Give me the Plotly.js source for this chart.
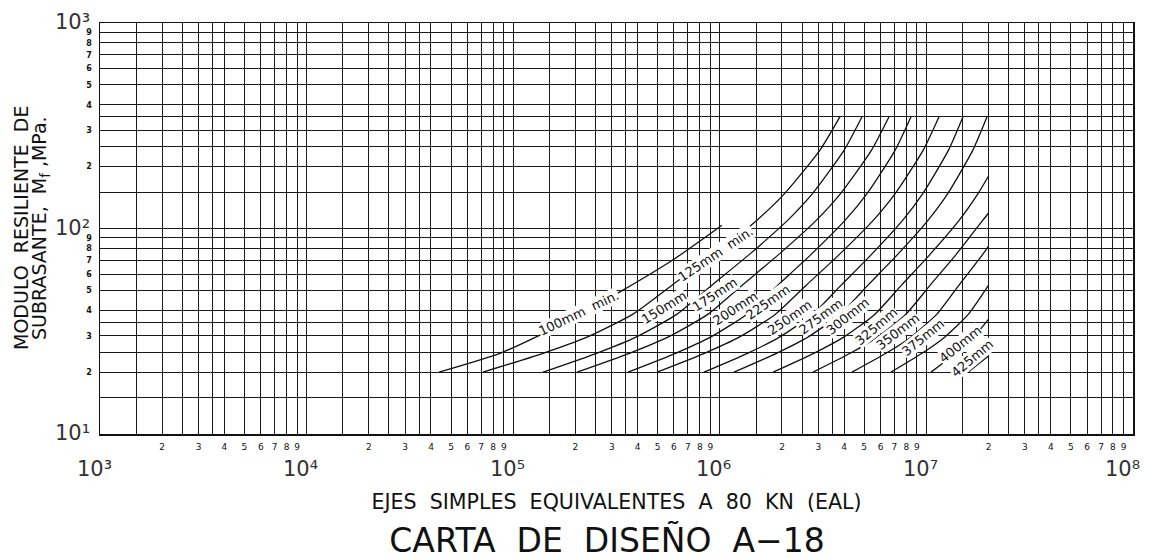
<!DOCTYPE html>
<html>
<head>
<meta charset="utf-8">
<script src="https://cdn.plot.ly/plotly-3.0.1.min.js"></script>
<style>html,body{margin:0;padding:0;background:#fff;}#chart{width:1149px;height:559px;}</style>
</head>
<body>
<div id="chart"></div>
<script>
// ---- Data (EAL = ejes simples equivalentes, MR = módulo resiliente MPa) ----
const thickness = ['100mm  min.', '125mm  min.', '150mm', '175mm', '200mm', '225mm', '250mm',
  '275mm', '300mm', '325mm', '350mm', '375mm', '400mm', '425mm'];

const eal100 = [43700, 86250, 134700, 208100, 339700, 599700, 1024000];
const mr100  = [20, 24.7, 30.3, 37.9, 50.1, 70.9, 103.8];
const eal125 = [71400, 139400, 227500, 379900, 586900, 926800, 1513000, 2068000, 3054000, 3818000];
const mr125  = [20, 24.7, 29.6, 38.3, 53.0, 74.2, 109.8, 148.6, 240.6, 350];
const eal150 = [139400, 253300, 392600, 620900, 915600, 1377000, 2135000, 2821000, 3997000, 4879000];
const mr150  = [20, 24.7, 29.6, 38.3, 53.0, 74.2, 109.8, 148.6, 240.6, 350];
const eal175 = [203600, 365100, 560700, 877600, 1283000, 1913000, 2937000, 3857000, 5425000, 6591000];
const mr175  = [20, 24.7, 29.6, 38.3, 53.0, 74.2, 109.8, 148.6, 240.6, 350];
const eal200 = [359400, 610800, 900900, 1353000, 1909000, 2744000, 4046000, 5181000, 7060000, 8424000];
const mr200  = [20, 24.7, 29.6, 38.3, 53.0, 74.2, 109.8, 148.6, 240.6, 350];
const eal225 = [496600, 842300, 1241000, 1860000, 2622000, 3762000, 5540000, 7088000, 9650000, 11510000];
const mr225  = [20, 24.7, 29.6, 38.3, 53.0, 74.2, 109.8, 148.6, 240.6, 350];
const eal250 = [838500, 1362000, 1944000, 2820000, 3866000, 5384000, 7687000, 9638000, 12790000, 15040000];
const mr250  = [20, 24.7, 29.6, 38.3, 53.0, 74.2, 109.8, 148.6, 240.6, 350];
const eal275 = [1171000, 1881000, 2665000, 3831000, 5212000, 7204000, 10200000, 12730000, 16780000, 19650000];
const mr275  = [20, 24.7, 29.6, 38.3, 53.0, 74.2, 109.8, 148.6, 240.6, 350];
const eal300 = [1809000, 2851000, 3979000, 5639000, 7578000, 10340000, 14430000, 17840000, 20000000];
const mr300  = [20, 24.7, 29.6, 38.3, 53.0, 74.2, 109.8, 148.6, 180];
const eal325 = [2825000, 4277000, 5797000, 7965000, 10430000, 13850000, 18760000, 20000000];
const mr325  = [20, 24.7, 29.6, 38.3, 53.0, 74.2, 109.8, 119];
const eal350 = [4364000, 6372000, 8411000, 11240000, 14380000, 18620000, 20000000];
const mr350  = [20, 24.7, 29.6, 38.3, 53.0, 74.2, 82.1];
const eal375 = [6739000, 9519000, 12260000, 15980000, 20000000];
const mr375  = [20, 24.7, 29.6, 38.3, 53.0];
const eal400 = [10530000, 13860000, 16950000, 20000000];
const mr400  = [20, 24.7, 29.6, 36.2];
const eal425 = [15900000, 17900000, 20000000];
const mr425  = [20, 22, 24];

// label anchor points (EAL, MPa) and angles for the curve labels
const labelEal   = [205900, 948000, 537000, 948000, 1185000, 1702000, 2187000, 3089000, 4151000, 5704000, 7288000, 9627000, 14540000, 16570000];
const labelMr    = [38.8, 75.1, 41.3, 47.5, 41.0, 43.6, 36.7, 37.1, 37.1, 33.5, 31.4, 29.5, 27.4, 23.4];
const labelAngle = [-25.6, -34, -32, -33, -33, -35, -35, -36.5, -38.7, -40, -37.6, -39, -39, -40];

// grid / tick tables
const decadesX = [1e3, 1e4, 1e5, 1e6, 1e7];
const decadesY = [10, 100];
const labelMult = [2, 3, 4, 5, 6, 7, 8, 9];
const extraGridMult = [1, 1.5, 2.5, 3.5];
const xDecadeLabels = [1e3, 1e4, 1e5, 1e6, 1e7, 1e8];
const yDecadeLabels = [10, 100, 1000];
const supDigits = ['\u2070', '\u00b9', '\u00b2', '\u00b3', '\u2074', '\u2075', '\u2076', '\u2077', '\u2078', '\u2079'];

// ---- Build ----
const curvesX = [eal100, eal125, eal150, eal175, eal200, eal225, eal250, eal275, eal300, eal325, eal350, eal375, eal400, eal425];
const curvesY = [mr100, mr125, mr150, mr175, mr200, mr225, mr250, mr275, mr300, mr325, mr350, mr375, mr400, mr425];

const traces = curvesX.map((xs, i) => ({
  type: 'scatter', mode: 'lines', x: xs, y: curvesY[i], name: thickness[i],
  line: {color: '#111', width: 1.3, shape: 'spline', smoothing: 0.6},
  hoverinfo: 'x+y+name', showlegend: false
}));

function majorTicks(decades) {
  const vals = [], text = [];
  decades.forEach(d => labelMult.forEach(m => { vals.push(d * m); text.push(String(m)); }));
  return {vals, text};
}
function minorTicks(decades, last) {
  const vals = [];
  decades.forEach(d => extraGridMult.forEach(m => vals.push(d * m)));
  vals.push(last);
  return vals;
}
const xt = majorTicks(decadesX);
const yt = majorTicks(decadesY);
const xm = minorTicks(decadesX, 1e8);
const ym = minorTicks(decadesY, 1000);
const powLabel = d => '10' + supDigits[Math.round(Math.log10(d))];

const annotations = [];
thickness.forEach((t, i) => annotations.push({
  x: Math.log10(labelEal[i]), y: Math.log10(labelMr[i]), xref: 'x', yref: 'y',
  text: t, showarrow: false, textangle: labelAngle[i],
  font: {family: 'DejaVu Sans', size: 13, color: '#111'},
  bgcolor: '#fff', borderpad: 0
}));
xDecadeLabels.forEach((d, i) => annotations.push({
  x: Math.log10(d), y: 0, xref: 'x', yref: 'paper', yanchor: 'top', xanchor: 'center',
  xshift: i === xDecadeLabels.length - 1 ? -11 : -6, yshift: -21,
  text: powLabel(d), showarrow: false,
  font: {family: 'DejaVu Sans', size: 21, color: '#333'}
}));
yDecadeLabels.forEach(d => annotations.push({
  x: 0, y: Math.log10(d), xref: 'paper', yref: 'y', xanchor: 'right', yanchor: 'middle',
  xshift: -8, yshift: 1,
  text: powLabel(d), showarrow: false,
  font: {family: 'DejaVu Sans', size: 21, color: '#333'}
}));
// y-axis title, two lines
const yTitleLines = ['MODULO\u00a0 RESILIENTE\u00a0 DE', 'SUBRASANTE,\u00a0 M<sub>f</sub> ,MPa.'];
const yTitleShift = [-79.5, -59.5];
yTitleLines.forEach((t, i) => annotations.push({
  x: 0, y: 0.5, xref: 'paper', yref: 'paper', xanchor: 'center', yanchor: 'middle',
  xshift: yTitleShift[i], text: t, showarrow: false, textangle: -90,
  font: {family: 'DejaVu Sans', size: 19, color: '#111'}
}));

const gridCommon = {
  showgrid: true, gridcolor: '#1a1a1a', gridwidth: 1, zeroline: false,
  showline: true, mirror: true, linecolor: '#111', linewidth: 1.5, ticks: ''
};

const layout = {
  width: 1149, height: 559,
  margin: {l: 100, r: 16, t: 23, b: 125},
  paper_bgcolor: '#fff', plot_bgcolor: '#fff',
  showlegend: false,
  font: {family: 'DejaVu Sans', color: '#111'},
  title: {text: 'CARTA\u00a0 DE\u00a0 DISEÑO\u00a0 A−18', font: {family: 'DejaVu Sans', size: 33, color: '#111'},
          x: 607 / 1149, xanchor: 'center', y: 1 - 540 / 559, yanchor: 'middle', yref: 'container'},
  xaxis: Object.assign({}, gridCommon, {
    type: 'log', range: [3, 8], tickmode: 'array', tickvals: xt.vals, ticktext: xt.text,
    minor: {tickmode: 'array', tickvals: xm, showgrid: true, gridcolor: '#1a1a1a', gridwidth: 1, ticks: ''},
    ticklabelstandoff: 4,
    tickfont: {family: 'DejaVu Sans', size: 9, color: '#111'},
    title: {text: 'EJES\u00a0 SIMPLES\u00a0 EQUIVALENTES\u00a0 A\u00a0 80\u00a0 KN\u00a0 (EAL)', font: {family: 'DejaVu Sans', size: 20.6, color: '#111'}, standoff: 43}
  }),
  yaxis: Object.assign({}, gridCommon, {
    type: 'log', range: [1, 3], tickmode: 'array', tickvals: yt.vals, ticktext: yt.text,
    minor: {tickmode: 'array', tickvals: ym, showgrid: true, gridcolor: '#1a1a1a', gridwidth: 1, ticks: ''},
    ticklabelstandoff: 5,
    tickfont: {family: 'DejaVu Sans', size: 8, weight: 'bold', color: '#111'}
  }),
  annotations: annotations
};

Plotly.newPlot('chart', traces, layout, {displayModeBar: false, staticPlot: true});
</script>
</body>
</html>
